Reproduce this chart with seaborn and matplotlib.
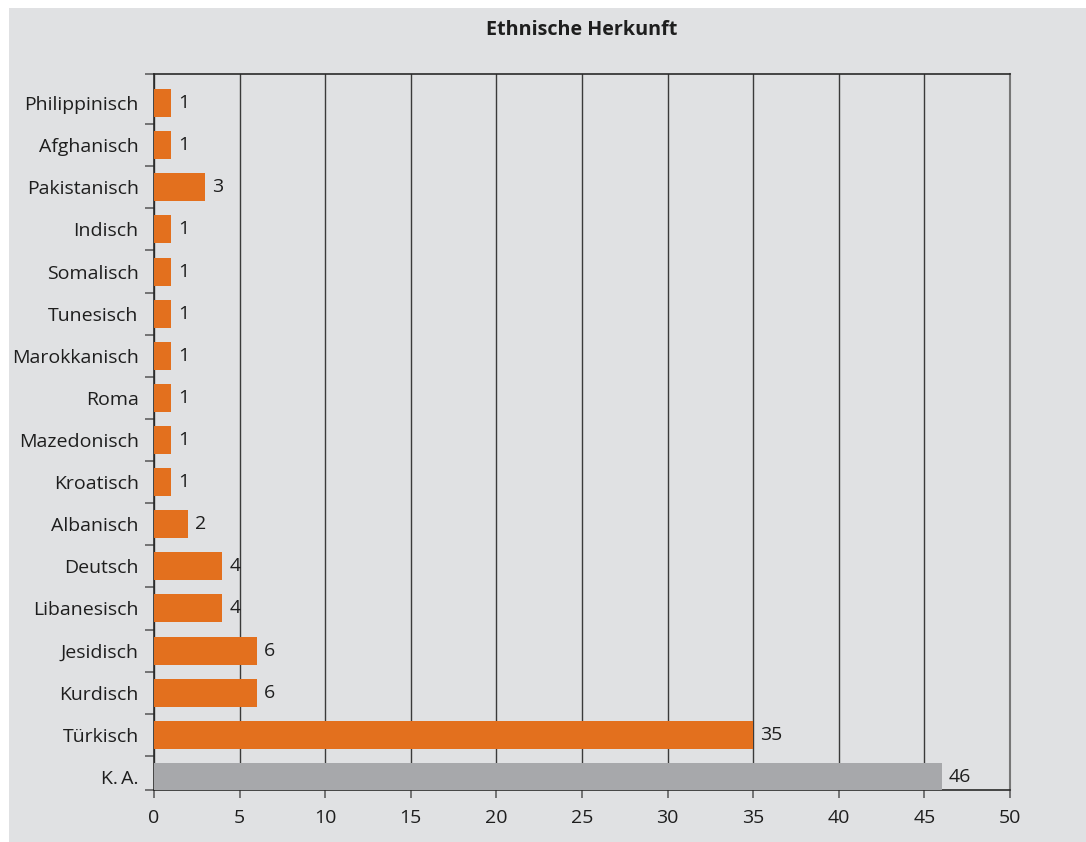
import matplotlib
matplotlib.use("Agg")
import matplotlib.pyplot as plt
import seaborn as sns
import pandas as pd
import numpy as np
from matplotlib.patches import Rectangle
from matplotlib.ticker import FixedLocator

# Ethnic origin counts (top to bottom)
categories = ["Philippinisch", "Afghanisch", "Pakistanisch", "Indisch", "Somalisch",
              "Tunesisch", "Marokkanisch", "Roma", "Mazedonisch", "Kroatisch",
              "Albanisch", "Deutsch", "Libanesisch", "Jesidisch", "Kurdisch",
              "Türkisch", "K.\u2009A."]
counts = [1, 1, 3, 1, 1, 1, 1, 1, 1, 1, 2, 4, 4, 6, 6, 35, 46]
groups = ["angegeben"] * 16 + ["keine Angabe"]
x_ticks = [0, 5, 10, 15, 20, 25, 30, 35, 40, 45, 50]
title = "Ethnische Herkunft"

BG = "#e0e1e3"
ORANGE = "#e3701e"
GREY_BAR = "#a7a8ab"
INK = "#1e1e1e"
LINE = "#3a3a3a"

sns.set_theme(style="white")
plt.rcParams["font.family"] = ["Open Sans", "DejaVu Sans"]

df = pd.DataFrame({"Herkunft": categories, "Anzahl": counts, "Gruppe": groups})

fig = plt.figure(figsize=(10.86, 8.42), dpi=100, facecolor="white")
fig.patches.append(Rectangle((9 / 1086, 0), 1, 1 - 8 / 842, transform=fig.transFigure,
                             facecolor=BG, edgecolor="none", zorder=-10))
ax = fig.add_axes([154 / 1086, 52 / 842, (1010 - 154) / 1086, (790 - 74) / 842])
ax.set_facecolor(BG)

sns.barplot(data=df, x="Anzahl", y="Herkunft", hue="Gruppe", order=categories,
            palette={"angegeben": ORANGE, "keine Angabe": GREY_BAR},
            dodge=False, width=0.665, legend=False, saturation=1, linewidth=0,
            ax=ax, zorder=3)

for cont in ax.containers:
    ax.bar_label(cont, padding=5, fontsize=14, color=INK)

n = len(categories)
y_top, y_bottom = -0.69, n - 0.69
ax.set_xlim(0, 50)
ax.set_ylim(y_bottom, y_top)
ax.set_xticks(x_ticks)
ax.set_xticklabels([str(t) for t in x_ticks])
ax.set_xlabel("")
ax.set_ylabel("")

ax.xaxis.grid(True, color=LINE, linewidth=1.0, zorder=0)
ax.set_axisbelow(True)

boundaries = [y_top] + list(np.arange(0.5, n - 1, 1.0)) + [y_bottom]
ax.yaxis.set_minor_locator(FixedLocator(boundaries))
ax.tick_params(axis="y", which="major", length=0, pad=11, labelsize=14, labelcolor=INK)
ax.tick_params(axis="y", which="minor", left=True, length=6.5, width=1.1, color="#555555")
ax.tick_params(axis="x", which="major", bottom=True, length=5.5, width=1.1, color="#555555",
               pad=8, labelsize=14, labelcolor=INK)

for side in ["left", "bottom", "top"]:
    ax.spines[side].set_visible(True)
    ax.spines[side].set_color("#2a2a2a")
    ax.spines[side].set_linewidth(1.2)
ax.spines["right"].set_visible(True)
ax.spines["right"].set_color("#777777")
ax.spines["right"].set_linewidth(1.5)

fig.text((154 + 1010) / 2 / 1086, 1 - 30 / 842, title, ha="center", va="center",
         fontsize=14.2, fontweight="bold", color=INK)

fig.savefig("out.png", dpi=100, facecolor="white")
